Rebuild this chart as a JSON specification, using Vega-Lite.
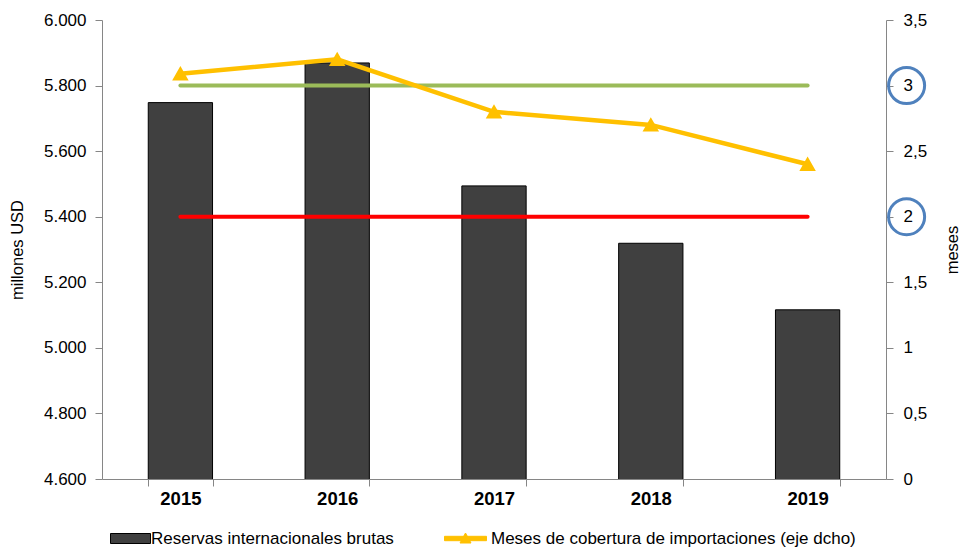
{
  "$schema": "https://vega.github.io/schema/vega-lite/v6.json",
  "width": 784,
  "height": 459,
  "autosize": {"type": "none"},
  "padding": {"left": 102, "top": 20, "right": 78, "bottom": 70},
  "background": "white",
  "config": {
    "view": {"stroke": null},
    "font": "Liberation Sans",
    "axis": {
      "grid": false,
      "domainColor": "#868686",
      "tickColor": "#868686",
      "labelColor": "#000000",
      "titleColor": "#000000",
      "labelFont": "Liberation Sans",
      "titleFont": "Liberation Sans",
      "titleFontWeight": "normal",
      "labelFontSize": 17,
      "titleFontSize": 16.5,
      "tickSize": 7
    }
  },
  "datasets": {
    "reservas": [
      {"anio": "2015", "valor": 5748, "serie": "Reservas internacionales brutas"},
      {"anio": "2016", "valor": 5869, "serie": "Reservas internacionales brutas"},
      {"anio": "2017", "valor": 5494, "serie": "Reservas internacionales brutas"},
      {"anio": "2018", "valor": 5319, "serie": "Reservas internacionales brutas"},
      {"anio": "2019", "valor": 5116, "serie": "Reservas internacionales brutas"}
    ],
    "meses": [
      {"anio": "2015", "valor": 3.09, "serie": "Meses de cobertura de importaciones (eje dcho)"},
      {"anio": "2016", "valor": 3.2, "serie": "Meses de cobertura de importaciones (eje dcho)"},
      {"anio": "2017", "valor": 2.8, "serie": "Meses de cobertura de importaciones (eje dcho)"},
      {"anio": "2018", "valor": 2.7, "serie": "Meses de cobertura de importaciones (eje dcho)"},
      {"anio": "2019", "valor": 2.4, "serie": "Meses de cobertura de importaciones (eje dcho)"}
    ],
    "verde": [{"anio": "2015", "nivel": 3}, {"anio": "2019", "nivel": 3}],
    "rojo": [{"anio": "2015", "nivel": 2}, {"anio": "2019", "nivel": 2}],
    "circulos": [{"anio": "2019", "nivel": 3}, {"anio": "2019", "nivel": 2}]
  },
  "encoding": {
    "x": {
      "field": "anio",
      "type": "nominal",
      "sort": null,
      "scale": {"paddingInner": 0.59, "paddingOuter": 0.295},
      "axis": {
        "title": null,
        "labelAngle": 0,
        "labelFontWeight": "bold",
        "labelFontSize": 18.5,
        "tickBand": "extent",
        "labelPadding": 3
      }
    }
  },
  "layer": [
    {
      "data": {"name": "reservas"},
      "mark": {"type": "bar", "stroke": "#000000", "strokeWidth": 1, "clip": true},
      "encoding": {
        "y": {
          "field": "valor",
          "type": "quantitative",
          "scale": {"domain": [4600, 6000], "nice": false, "zero": false},
          "axis": {
            "title": "millones USD",
            "values": [4600, 4800, 5000, 5200, 5400, 5600, 5800, 6000],
            "labelExpr": "replace(format(datum.value, ',d'), ',', '.')",
            "labelPadding": 9,
            "titlePadding": 18
          }
        },
        "fill": {
          "field": "serie",
          "type": "nominal",
          "scale": {"domain": ["Reservas internacionales brutas"], "range": ["#404040"]},
          "legend": {
            "title": null,
            "orient": "none",
            "legendX": 18,
            "legendY": 508,
            "labelOffset": 10,
            "labelLimit": 0,
            "symbolSize": 400,
            "symbolType": "M-2,-0.5H2V0.5H-2Z",
            "symbolStrokeColor": "#000000",
            "symbolStrokeWidth": 1,
            "symbolOpacity": 1,
            "labelFontSize": 17,
            "labelFont": "Liberation Sans",
            "labelColor": "#000000",
            "padding": 0
          }
        }
      }
    },
    {
      "layer": [
        {
          "data": {"name": "rojo"},
          "mark": {"type": "line", "color": "#FF0000", "strokeWidth": 4, "strokeCap": "round"},
          "encoding": {
            "y": {
              "field": "nivel",
              "type": "quantitative",
              "scale": {"domain": [0, 3.5], "nice": false},
              "axis": {
                "orient": "right",
                "title": "meses",
                "titleAngle": 270,
                "values": [0, 0.5, 1, 1.5, 2, 2.5, 3, 3.5],
                "labelExpr": "replace(format(datum.value, '.1~f'), '.', ',')",
                "labelPadding": 10,
                "titlePadding": 34
              }
            }
          }
        },
        {
          "data": {"name": "verde"},
          "mark": {"type": "line", "color": "#9BBB59", "strokeWidth": 4, "strokeCap": "round"},
          "encoding": {
            "y": {
              "field": "nivel",
              "type": "quantitative",
              "axis": {
                "orient": "right",
                "title": "meses",
                "titleAngle": 270,
                "values": [0, 0.5, 1, 1.5, 2, 2.5, 3, 3.5],
                "labelExpr": "replace(format(datum.value, '.1~f'), '.', ',')",
                "labelPadding": 10,
                "titlePadding": 34
              }
            }
          }
        },
        {
          "data": {"name": "meses"},
          "mark": {
            "type": "line",
            "strokeWidth": 4.5,
            "point": {"shape": "triangle-up", "size": 170, "filled": true, "fill": "#FFC000", "stroke": "#FFC000"}
          },
          "encoding": {
            "y": {
              "field": "valor",
              "type": "quantitative",
              "axis": {
                "orient": "right",
                "title": "meses",
                "titleAngle": 270,
                "values": [0, 0.5, 1, 1.5, 2, 2.5, 3, 3.5],
                "labelExpr": "replace(format(datum.value, '.1~f'), '.', ',')",
                "labelPadding": 10,
                "titlePadding": 34
              }
            },
            "stroke": {
              "field": "serie",
              "type": "nominal",
              "scale": {"domain": ["Meses de cobertura de importaciones (eje dcho)"], "range": ["#FFC000"]},
              "legend": {
                "title": null,
                "orient": "none",
                "legendX": 353,
                "legendY": 508,
                "labelOffset": 15,
                "labelLimit": 0,
                "symbolSize": 400,
                "symbolType": "M-2.1,-0.22H2.1V0.22H-2.1Z M0,-0.55L0.55,0.45H-0.55Z",
                "symbolFillColor": "#FFC000",
                "symbolStrokeColor": "#FFC000",
                "symbolStrokeWidth": 1,
                "symbolOpacity": 1,
                "labelFontSize": 17,
                "labelFont": "Liberation Sans",
                "labelColor": "#000000",
                "padding": 0
              }
            }
          }
        },
        {
          "data": {"name": "circulos"},
          "mark": {"type": "point", "shape": "circle", "size": 1300, "filled": false, "stroke": "#4F81BD", "strokeWidth": 3, "opacity": 1, "xOffset": 99, "clip": false},
          "encoding": {
            "y": {
              "field": "nivel",
              "type": "quantitative",
              "axis": {
                "orient": "right",
                "title": "meses",
                "titleAngle": 270,
                "values": [0, 0.5, 1, 1.5, 2, 2.5, 3, 3.5],
                "labelExpr": "replace(format(datum.value, '.1~f'), '.', ',')",
                "labelPadding": 10,
                "titlePadding": 34
              }
            }
          }
        }
      ]
    }
  ],
  "resolve": {"scale": {"y": "independent"}}
}
